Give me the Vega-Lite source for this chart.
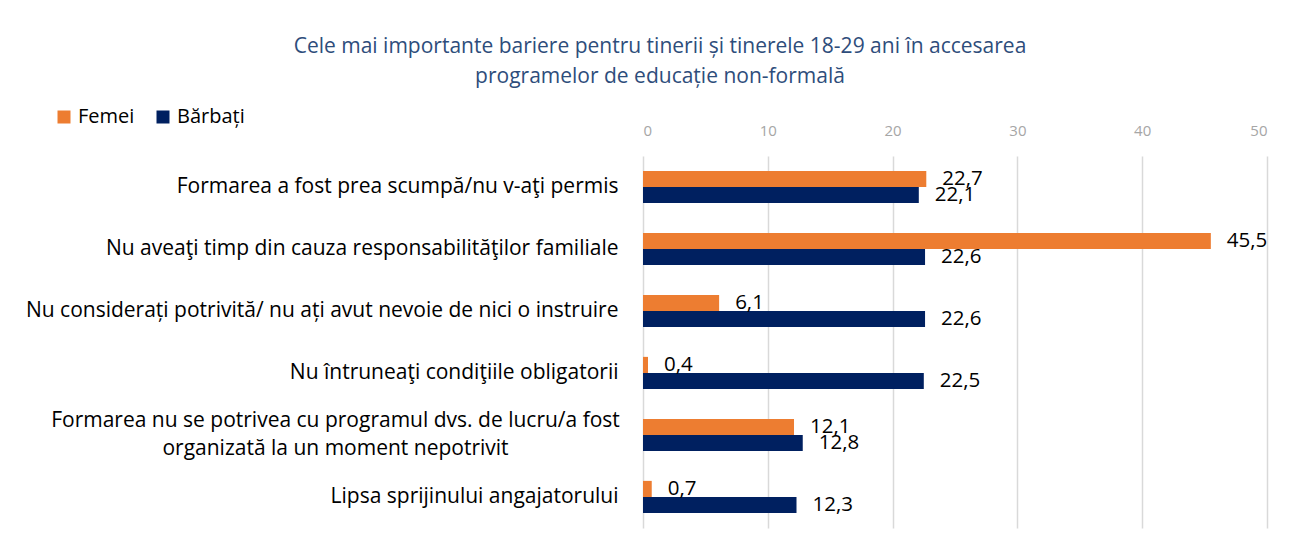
{
  "$schema": "https://vega.github.io/schema/vega-lite/v6.json",
  "width": 624,
  "height": 372,
  "autosize": {"type": "none"},
  "padding": {"left": 643, "top": 156, "right": 24, "bottom": 18},
  "background": "white",
  "config": {
    "font": "Open Sans",
    "view": {"stroke": null},
    "locale": {"number": {"decimal": ",", "thousands": ".", "grouping": [3], "currency": ["", ""]}}
  },
  "title": {
    "text": ["Cele mai importante bariere pentru tinerii și tinerele 18-29 ani în accesarea", "programelor de educație non-formală"],
    "color": "#2E4D7B",
    "fontSize": 21,
    "fontWeight": "normal",
    "lineHeight": 30,
    "anchor": "middle",
    "frame": "group",
    "dx": -295,
    "offset": 20
  },
  "data": {
    "values": [
      {"cat": "Formarea a fost prea scumpă/nu v-aţi permis", "sex": "Femei", "v": 22.7},
      {"cat": "Formarea a fost prea scumpă/nu v-aţi permis", "sex": "Bărbați", "v": 22.1},
      {"cat": "Nu aveaţi timp din cauza responsabilităţilor familiale", "sex": "Femei", "v": 45.5},
      {"cat": "Nu aveaţi timp din cauza responsabilităţilor familiale", "sex": "Bărbați", "v": 22.6},
      {"cat": "Nu considerați potrivită/ nu ați avut nevoie de nici o instruire", "sex": "Femei", "v": 6.1},
      {"cat": "Nu considerați potrivită/ nu ați avut nevoie de nici o instruire", "sex": "Bărbați", "v": 22.6},
      {"cat": "Nu întruneaţi condiţiile obligatorii", "sex": "Femei", "v": 0.4},
      {"cat": "Nu întruneaţi condiţiile obligatorii", "sex": "Bărbați", "v": 22.5},
      {"cat": "Formarea nu se potrivea cu programul dvs. de lucru/a fost|organizată la un moment nepotrivit", "sex": "Femei", "v": 12.1},
      {"cat": "Formarea nu se potrivea cu programul dvs. de lucru/a fost|organizată la un moment nepotrivit", "sex": "Bărbați", "v": 12.8},
      {"cat": "Lipsa sprijinului angajatorului", "sex": "Femei", "v": 0.7},
      {"cat": "Lipsa sprijinului angajatorului", "sex": "Bărbați", "v": 12.3}
    ]
  },
  "encoding": {
    "y": {
      "field": "cat",
      "type": "nominal",
      "sort": null,
      "scale": {"paddingInner": 0.48, "paddingOuter": 0.24},
      "axis": {
        "title": null,
        "domain": false,
        "ticks": false,
        "tickSize": 0,
        "labelPadding": {"condition": {"test": "indexof(datum.value, '|') >= 0", "value": 308}, "value": 25},
        "labelAlign": {"condition": {"test": "indexof(datum.value, '|') >= 0", "value": "center"}, "value": "right"},
        "labelOffset": {"condition": {"test": "indexof(datum.value, '|') >= 0", "value": -14}, "value": 0},
        "labelFontSize": 21,
        "labelColor": "#000000",
        "labelLimit": 800,
        "labelLineHeight": 28,
        "labelExpr": "split(datum.label, '|')"
      }
    },
    "yOffset": {"field": "sex", "type": "nominal", "sort": ["Femei", "Bărbați"], "scale": {"paddingInner": 0, "paddingOuter": 0}},
    "x": {
      "field": "v",
      "type": "quantitative",
      "scale": {"domain": [0, 50], "nice": false},
      "axis": {
        "orient": "top",
        "title": null,
        "domain": false,
        "ticks": false,
        "tickSize": 0,
        "values": [0, 10, 20, 30, 40, 50],
        "labelPadding": 18,
        "labelFontSize": 15,
        "labelColor": "#A6A6A6",
        "grid": true,
        "gridColor": "#D9D9D9",
        "gridWidth": 1.5
      }
    }
  },
  "layer": [
    {
      "mark": {"type": "bar"},
      "encoding": {
        "color": {
          "field": "sex",
          "type": "nominal",
          "sort": ["Femei", "Bărbați"],
          "scale": {"domain": ["Femei", "Bărbați"], "range": ["#ED7D31", "#002060"]},
          "legend": {
            "title": null,
            "orient": "none",
            "legendX": -589,
            "legendY": -49,
            "direction": "horizontal",
            "symbolType": "square",
            "symbolSize": 169,
            "symbolStrokeWidth": 0,
            "labelFontSize": 20,
            "labelColor": "#000000",
            "columnPadding": 18,
            "labelOffset": 4
          }
        }
      }
    },
    {
      "mark": {"type": "text", "align": "left", "baseline": "middle", "dx": 16, "fontSize": 20.5, "color": "#000000"},
      "encoding": {"text": {"field": "v", "type": "quantitative", "format": ".1f"}}
    }
  ]
}
